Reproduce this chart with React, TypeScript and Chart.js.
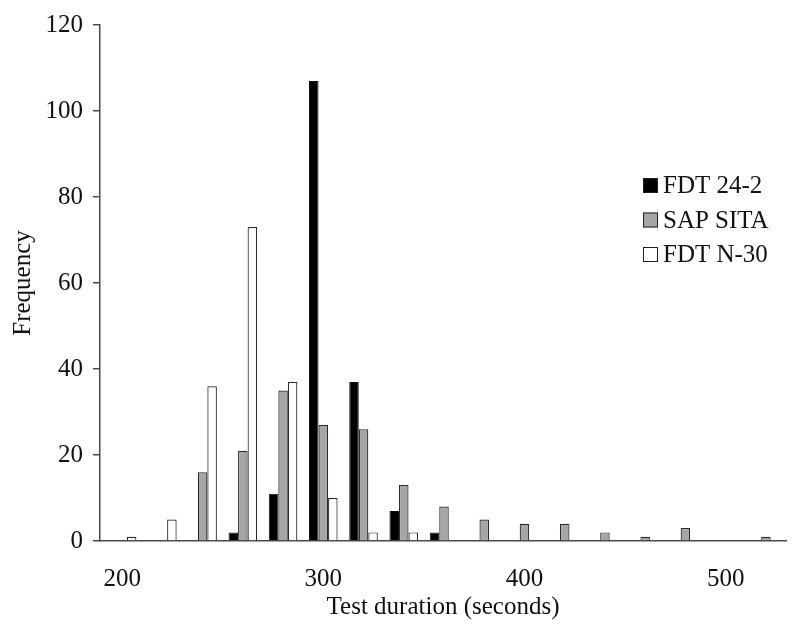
import React, { useEffect, useRef } from "react";
import { Chart, registerables } from "chart.js";

Chart.register(...registerables);

const bins = [200, 220, 240, 260, 280, 300, 320, 340, 360, 380, 400, 420, 440, 460, 480, 500, 520];
const fdt242 = [0, 0, 0, 2, 11, 107, 37, 7, 2, 0, 0, 0, 0, 0, 0, 0, 0];
const sapSita = [0, 0, 16, 21, 35, 27, 26, 13, 8, 5, 4, 4, 2, 1, 3, 0, 1];
const fdtN30 = [1, 5, 36, 73, 37, 10, 2, 2, 0, 0, 0, 0, 0, 0, 0, 0, 0];
const seriesNames = ["FDT 24-2", "SAP SITA", "FDT N-30"];
const xTickValues = [200, 300, 400, 500];
const xTitle = "Test duration (seconds)";
const yTitle = "Frequency";

const FONT = "'Liberation Serif', 'Times New Roman', serif";
const AXIS_COLOR = "#4a4a4a";

const legendPlugin = {
  id: "customLegend",
  afterDraw(chart: any) {
    const ctx = chart.ctx;
    ctx.save();
    ctx.font = `25px ${FONT}`;
    ctx.textBaseline = "alphabetic";
    ctx.textAlign = "left";
    chart.data.datasets.forEach((ds: any, i: number) => {
      const baseY = 193 + i * 34.5;
      const bx = 643;
      const size = 15;
      ctx.fillStyle = ds.backgroundColor;
      ctx.fillRect(bx, baseY - size, size, size);
      ctx.lineWidth = 1;
      ctx.strokeStyle = "#222";
      ctx.strokeRect(bx + 0.5, baseY - size + 0.5, size - 1, size - 1);
      ctx.fillStyle = "#111";
      ctx.fillText(ds.label, 663, baseY);
    });
    ctx.restore();
  },
};

export default function App() {
  const ref = useRef<HTMLCanvasElement | null>(null);

  useEffect(() => {
    document.body.style.margin = "0";
    const canvas = ref.current;
    if (!canvas) return;
    const mk = (vals: number[]) => vals.map((v, i) => ({ x: bins[i], y: v }));
    const chart = new Chart(canvas, {
      type: "bar",
      data: {
        datasets: [
          { label: seriesNames[0], data: mk(fdt242), backgroundColor: "#000000", borderColor: "#111", borderWidth: 1 },
          { label: seriesNames[1], data: mk(sapSita), backgroundColor: "#a6a6a6", borderColor: "#2a2a2a", borderWidth: 1.2 },
          { label: seriesNames[2], data: mk(fdtN30), backgroundColor: "#ffffff", borderColor: "#2a2a2a", borderWidth: 1.2 },
        ] as any,
      },
      options: {
        responsive: false,
        animation: false,
        devicePixelRatio: 1,
        layout: { padding: { top: 22, right: 14, left: 0, bottom: 0 } },
        datasets: { bar: { categoryPercentage: 0.71, barPercentage: 1.0 } } as any,
        plugins: {
          legend: { display: false },
          tooltip: { enabled: false },
        },
        scales: {
          x: {
            type: "linear",
            min: 189,
            max: 530,
            offset: false,
            grid: { display: false, drawTicks: false },
            border: { display: true, color: AXIS_COLOR, width: 1.5 },
            afterBuildTicks: (scale: any) => {
              scale.ticks = xTickValues.map((v) => ({ value: v }));
            },
            afterFit: (scale: any) => {
              scale.height = 98;
            },
            ticks: {
              padding: 23,
              color: "#111",
              font: { family: FONT, size: 25 },
              maxRotation: 0,
              autoSkip: false,
            },
            title: {
              display: true,
              text: xTitle,
              color: "#111",
              font: { family: FONT, size: 25 },
              padding: { top: 0, bottom: 17 },
            },
          },
          y: {
            type: "linear",
            min: 0,
            max: 120,
            grid: { drawOnChartArea: false, drawTicks: true, tickLength: 7, color: AXIS_COLOR, lineWidth: 1.5 },
            border: { display: true, color: AXIS_COLOR, width: 1.5 },
            afterFit: (scale: any) => {
              scale.width = 100;
            },
            ticks: {
              stepSize: 20,
              padding: 10,
              color: "#111",
              font: { family: FONT, size: 25 },
            },
            title: {
              display: true,
              text: yTitle,
              color: "#111",
              font: { family: FONT, size: 25 },
              padding: { top: 8, bottom: 0 },
            },
          },
        },
      } as any,
      plugins: [legendPlugin],
    });
    return () => chart.destroy();
  }, []);

  return (
    <div style={{ position: "absolute", left: 0, top: 0, width: 800, height: 639 }}>
      <canvas ref={ref} width={800} height={639} style={{ width: 800, height: 639, display: "block" }} />
    </div>
  );
}
